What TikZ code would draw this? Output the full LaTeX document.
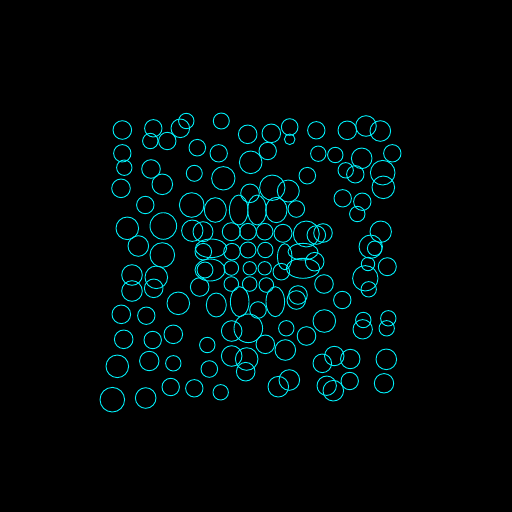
\documentclass[tikz,border=0pt]{standalone}
\definecolor{cy}{RGB}{0,240,250}
\begin{document}
\begin{tikzpicture}[x=1pt,y=-1pt,ring/.style={draw=cy,line width=0.9pt}]
\fill[black] (0,0) rectangle (512,512);
\useasboundingbox (0,0) rectangle (512,512);
% outer field
\foreach \x/\y/\r in {
122.3/130/9.3,153.3/128.3/8.7,150.3/141/7.7,167.3/141/8.7,180.3/128.3/9.3,186.3/121/7.7,
197.3/147.7/8.3,122.3/153.3/8.7,124.3/167.7/7.7,151/169/9.3,162.3/184.3/10.3,194.3/173.3/8,
121/188.3/9.3,145.3/205/8.7,191.7/205/12.3,221.3/121/8,247.7/134.3/9.3,271.3/133.3/9.3,
289.7/127/8.3,289.7/139.3/5.3,218.7/153.3/8.7,267.7/151/8.7,250.7/162.3/11.3,223.3/178.3/11.7,
250/193.3/9.3,272.3/187.7/12.7,288.3/191/11,316.3/130.3/8.7,347.3/130.3/9.3,366/126/10.3,
380.3/131/10.3,318.3/153.7/7.7,335.3/155/7.7,361.7/158.3/10.3,392.3/153.3/8.7,345.7/170.3/7.7,
355.3/174.3/8.7,382.7/172.7/12.3,383.3/187.3/11.3,307.3/175.7/8.3,342.7/198.3/8.7,362.3/201.7/8.7,
357.3/214/7.7,
127.3/228.3/11.3,163.3/226/13.3,192.3/230.7/10.7,138.3/246/10.3,162.3/255/12.3,132/275/10.3,
132/291/10.3,156.3/277.3/11.3,153.7/288.3/9.3,178.3/303.3/11.3,
380.7/231.7/10.7,370.7/246.7/11.7,374.7/248.3/7.3,368/264/6.7,387.3/266.7/9,365.3/278.3/12.7,
368.7/289.3/7.7,324/284/9.3,342.3/300/8.7,
121.3/314.3/9.3,146.3/315.7/8.7,123.7/339.3/9.3,152.7/340/8.7,173.3/334.3/9.3,207.3/345/7.7,
117.3/366.3/11.3,149.3/361/9.7,173.3/363.3/7.7,209.3/369/8.3,112.3/399.7/12.3,145.7/398/10.3,
170.7/387/8.7,194.3/388.3/8.7,220.7/392.3/7.7,231.7/331/10.3,248.3/328.3/14.3,286.3/328.3/7.7,
306.5/336/9.3,265.3/344.3/9.3,285.3/350/10.3,231.7/356/10.3,246.7/359/11.3,245.7/371.7/9.3,
278.3/386.7/10.3,289.3/380/10.3,324.3/321/11.3,363.3/320/7.7,362.7/329.3/9.7,388.3/318.3/7.7,
386.7/328.3/7.7,322.3/363.3/9.3,334.3/356/9.7,350.3/359/9.7,386.3/359.3/10.3,349.7/381/8.7,
326.7/385.7/9.7,333.3/390.7/10.3,384/383.3/9.7,
% centre circles
296.3/209/8.3,203/231.7/10,231.3/231.7/9,248/231.7/8.3,264.7/231.7/8.3,283/233.3/9,
306.3/234/13,316.3/235/9.3,323/233/9.3,203.3/251.7/8.3,205/270/8,199.7/287/9.3,
232/251.7/8.3,248/250/8,265.3/250/7.7,231.3/268/7.3,249.7/268.3/6.7,264.7/268.3/6.7,
281.3/271.7/8.3,231.3/284/7.3,249.7/284/7.3,266.3/285/7.3,314.7/261.7/9.3,298/295/9.3,
258/310/8.3,296.3/300/9.3}
  \draw[ring] (\x,\y) circle[radius=\r];
% centre ellipses
\foreach \x/\y/\a/\b in {
215.3/210/11/12.3,238.7/210/9.3/15,257/210/9.3/15,276.3/210/10.7/12.7,
211/248.3/15.7/9.3,210/270/15/11,284.7/256.7/7.3/13,
303/251.7/15/8.3,303/268.3/16.7/10,
216.3/305/10/12,239.7/301.7/9.3/15,275.3/301.7/9.3/15}
  \draw[ring] (\x,\y) ellipse[x radius=\a,y radius=\b];
\end{tikzpicture}
\end{document}
